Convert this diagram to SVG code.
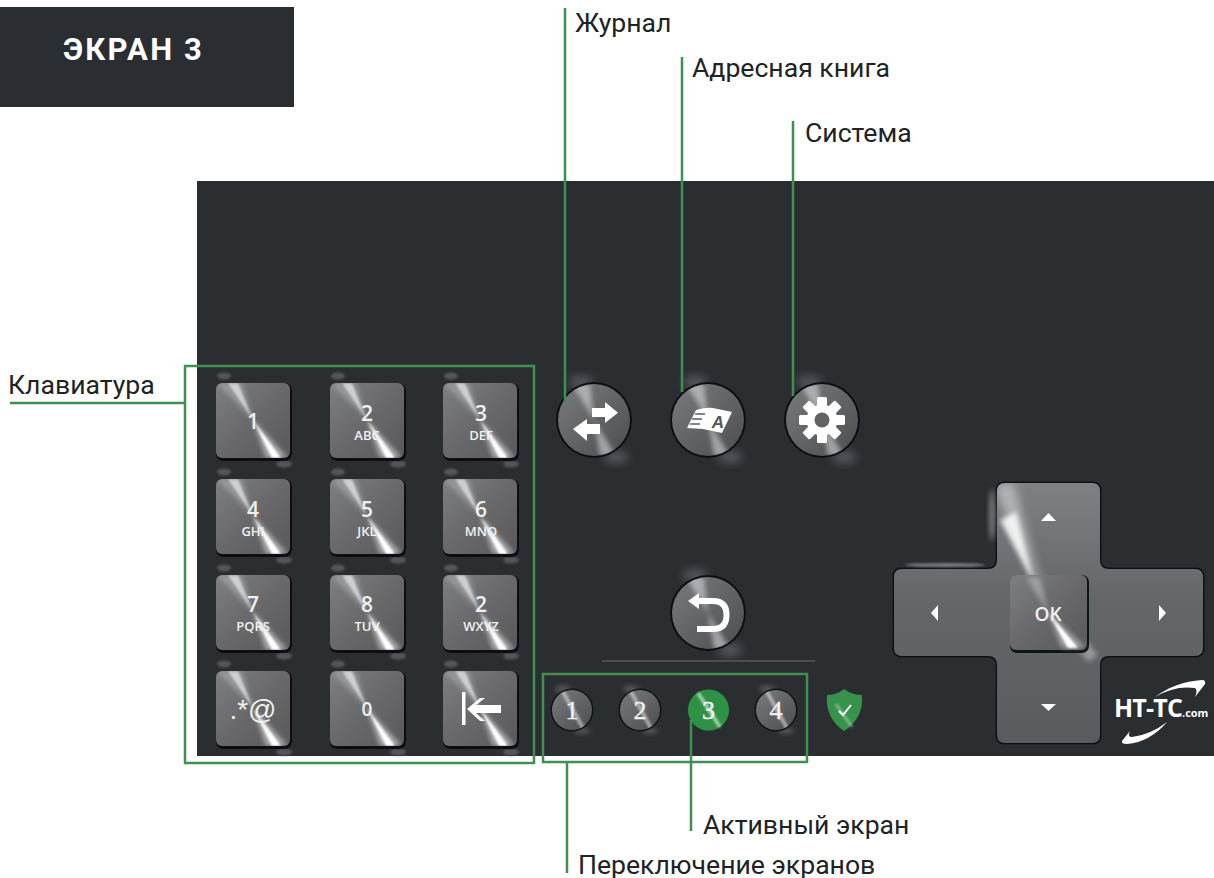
<svg xmlns="http://www.w3.org/2000/svg" xmlns:xlink="http://www.w3.org/1999/xlink" width="1214" height="878" viewBox="0 0 1214 878">
<style>
text{font-family:"Open Sans","Liberation Sans",sans-serif;fill:#f1f1f1;text-anchor:middle;font-weight:600}
.lbl{font-family:Roboto,"Liberation Sans",sans-serif;font-size:26.600px;fill:#202326;text-anchor:start;font-weight:400}
.d{font-size:21px}
.l{font-size:13px}
.n{font-family:"Liberation Serif",serif;font-size:26px;font-weight:400;stroke:#f1f1f1;stroke-width:.4}
.c{fill:none;stroke:#3f8f50;stroke-width:2.5}
.i{fill:#fff;stroke:none}
.s{fill:none;stroke:#fff;stroke-width:6}
</style>
<defs>
<linearGradient id="gk" x1="0" y1="0" x2="1" y2="1"><stop offset="0" stop-color="#7e7f81"/><stop offset="0.5" stop-color="#69696b"/><stop offset="1" stop-color="#59595b"/></linearGradient>
<linearGradient id="gr" x1="0" y1="0" x2="1" y2="1"><stop offset="0" stop-color="#7a7b7d"/><stop offset="1" stop-color="#4c4d4f"/></linearGradient>
<linearGradient id="gd" x1="0" y1="0" x2="0" y2="1"><stop offset="0" stop-color="#7f8083"/><stop offset="0.45" stop-color="#656669"/><stop offset="1" stop-color="#5a5b5f"/></linearGradient>
<filter id="b1" x="-50%" y="-50%" width="200%" height="200%"><feGaussianBlur stdDeviation="1"/></filter>
<filter id="b2" x="-50%" y="-50%" width="200%" height="200%"><feGaussianBlur stdDeviation="2.400"/></filter>
<filter id="b3" x="-50%" y="-50%" width="200%" height="200%"><feGaussianBlur stdDeviation="5"/></filter>
<filter id="b0" x="-10%" y="-10%" width="120%" height="120%"><feGaussianBlur stdDeviation=".7"/></filter>
<clipPath id="ck"><rect width="74" height="75" rx="6"/></clipPath>
<clipPath id="cr"><circle r="36"/></clipPath>
<clipPath id="cs"><circle r="20"/></clipPath>
<clipPath id="cd"><path d="M1005 483H1092Q1100 483 1100 491V560Q1100 569 1109 569H1195Q1203 569 1203 577V648Q1203 656 1195 656H1109Q1100 656 1100 665V735Q1100 743 1092 743H1005Q997 743 997 735V665Q997 656 988 656H902Q894 656 894 648V577Q894 569 902 569H988Q997 569 997 560V491Q997 483 1005 483Z"/></clipPath>
<symbol id="key" overflow="visible">
<ellipse cx="8" cy="-7" rx="7" ry="3.500" fill="#54575a" filter="url(#b1)"/>
<ellipse cx="68" cy="81" rx="8" ry="3.500" fill="#54575a" filter="url(#b1)"/>
<rect x="0" y="0" width="76" height="78" rx="7" fill="#0e1012" filter="url(#b0)"/>
<rect width="74" height="75" rx="6" fill="url(#gk)"/>
<g clip-path="url(#ck)">
<path d="M37 37L0 0H26Z" fill="#c4c6c9" opacity=".4" filter="url(#b2)"/>
<path d="M37 37L12 0H22Z" fill="#eceef0" opacity=".65" filter="url(#b1)"/>
<path d="M37 37L50 75H72Z" fill="#eceef2" opacity=".55" filter="url(#b2)"/>
<path d="M37 37L56 75H65Z" fill="#fff" filter="url(#b1)"/>
</g>
</symbol>
<symbol id="rnd" overflow="visible">
<ellipse cx="-13" cy="-38" rx="12" ry="6" fill="#63666a" opacity=".8" filter="url(#b3)"/>
<ellipse cx="22" cy="37" rx="12" ry="6" fill="#63666a" opacity=".8" filter="url(#b3)"/>
<circle r="38" fill="#0e1012" filter="url(#b0)"/>
<circle r="36" fill="url(#gr)"/>
<g clip-path="url(#cr)">
<path d="M0 0L-22 -36H-4Z" fill="#dfe1e4" opacity=".55" filter="url(#b2)"/>
<path d="M0 0L6 36H22Z" fill="#dfe1e4" opacity=".55" filter="url(#b2)"/>
</g>
</symbol>
<symbol id="sm" overflow="visible">
<ellipse cx="-9" cy="-21" rx="8" ry="3.500" fill="#55585b" filter="url(#b2)"/>
<ellipse cx="10" cy="21" rx="8" ry="3" fill="#55585b" filter="url(#b2)"/>
<circle r="21.500" fill="#101214" filter="url(#b0)"/>
<circle r="20" fill="url(#gr)"/>
<g clip-path="url(#cs)">
<path d="M-10 -20L12 20" stroke="#e4e6e9" stroke-width="4" opacity=".55" filter="url(#b1)"/>
</g>
</symbol>
</defs>

<rect width="1214" height="878" fill="#fff"/>

<g id="title">
<rect x="0" y="7" width="294" height="100" fill="#2a2d32"/>
<text x="133.500" y="60" style="font-family:Roboto,'Liberation Sans',sans-serif;font-size:31px;font-weight:700;letter-spacing:2.200px;fill:#fff">ЭКРАН 3</text>
</g>

<rect id="panel" x="197" y="181" width="1017" height="575" fill="#2b2e31"/>

<g id="keypad">
<g id="key-1"><use href="#key" x="216" y="383"/><text class="d" x="253" y="429">1</text></g>
<g id="key-2"><use href="#key" x="330" y="383"/><text class="d" x="367" y="421">2</text><text class="l" x="367" y="440">ABC</text></g>
<g id="key-3"><use href="#key" x="443" y="383"/><text class="d" x="481" y="421">3</text><text class="l" x="481" y="440">DEF</text></g>
<g id="key-4"><use href="#key" x="216" y="479"/><text class="d" x="253" y="517">4</text><text class="l" x="253" y="536">GHI</text></g>
<g id="key-5"><use href="#key" x="330" y="479"/><text class="d" x="367" y="517">5</text><text class="l" x="367" y="536">JKL</text></g>
<g id="key-6"><use href="#key" x="443" y="479"/><text class="d" x="481" y="517">6</text><text class="l" x="481" y="536">MNO</text></g>
<g id="key-7"><use href="#key" x="216" y="575"/><text class="d" x="253" y="612">7</text><text class="l" x="253" y="631">PQRS</text></g>
<g id="key-8"><use href="#key" x="330" y="575"/><text class="d" x="367" y="612">8</text><text class="l" x="367" y="631">TUV</text></g>
<g id="key-9"><use href="#key" x="443" y="575"/><text class="d" x="481" y="612">2</text><text class="l" x="481" y="631">WXYZ</text></g>
<g id="key-star"><use href="#key" x="216" y="671"/><text x="253" y="719" style="font-size:28px;font-weight:400;font-family:'Liberation Sans',sans-serif">.*@</text></g>
<g id="key-0"><use href="#key" x="330" y="671"/><text class="d" x="367" y="716" style="font-size:19px">0</text></g>
<g id="key-back"><use href="#key" x="443" y="671"/><path class="i" d="M462 692h3.500v33h-3.500zM467 709L480 698H485L476 705H501V713H476L485 721H480Z"/></g>
</g>

<g id="btn-journal"><use href="#rnd" x="594" y="420"/><path class="i" d="M592 408H605V402L618 412.700L605 423V417H592ZM600 424H587V419L573 429L587 441V434H600Z"/></g>
<g id="btn-book"><use href="#rnd" x="708" y="420"/><path class="i" d="M696 410Q706 407 713 408L732 412L722 433L703 429L687 428Z"/><path d="M695 414h10M692 419h10M690 424h10" stroke="#5c5d5f" stroke-width="1.400"/><text x="718" y="428" style="font-family:'Liberation Sans',sans-serif;font-size:17px;font-weight:700;font-style:italic;fill:#55565a">A</text></g>
<g id="btn-system"><use href="#rnd" x="822" y="420"/>
<g transform="translate(822 420)" fill="#fff">
<rect x="-5" y="-23" width="10" height="46" rx="1.500"/><rect x="-5" y="-23" width="10" height="46" rx="1.500" transform="rotate(45)"/><rect x="-5" y="-23" width="10" height="46" rx="1.500" transform="rotate(90)"/><rect x="-5" y="-23" width="10" height="46" rx="1.500" transform="rotate(135)"/>
<circle r="15.500"/><circle r="7.500" fill="#626365"/></g></g>
<g id="btn-back"><use href="#rnd" x="708" y="613"/><path class="i" d="M688 601L699 593V609Z"/><path class="s" d="M697 601H713Q726.500 601 726.500 615Q726.500 629 713 629H697"/></g>

<rect id="divider" x="602" y="660" width="213" height="2" fill="#4b4e51"/>

<g id="screen-1"><use href="#sm" x="572" y="710"/><text class="n" x="572" y="719">1</text></g>
<g id="screen-2"><use href="#sm" x="640" y="710"/><text class="n" x="640" y="719">2</text></g>
<g id="screen-3">
<circle cx="708.500" cy="710" r="21" fill="#1b4a27"/><circle cx="708.500" cy="710" r="20.500" fill="#2f9146"/>
<path d="M698 693L720 727" stroke="#d5ecd9" stroke-width="3.500" opacity=".7" filter="url(#b1)"/>
<text class="n" x="708.500" y="719">3</text></g>
<g id="screen-4"><use href="#sm" x="776" y="710"/><text class="n" x="776" y="719">4</text></g>
<g id="shield"><path d="M844 689Q852 695 862 695Q864 718 844 731Q825 718 827 695Q837 695 844 689Z" fill="#37924c"/><path d="M836 704L852 727" stroke="#cfe8d4" stroke-width="3" opacity=".45" filter="url(#b1)"/><path d="M839 711L843 715L851 705" fill="none" stroke="#fff" stroke-width="2"/></g>

<g id="dpad">
<path d="M1005 483H1092Q1100 483 1100 491V560Q1100 569 1109 569H1195Q1203 569 1203 577V648Q1203 656 1195 656H1109Q1100 656 1100 665V735Q1100 743 1092 743H1005Q997 743 997 735V665Q997 656 988 656H902Q894 656 894 648V577Q894 569 902 569H988Q997 569 997 560V491Q997 483 1005 483Z" fill="#0e1012" stroke="#0e1012" stroke-width="3" filter="url(#b0)"/>
<ellipse cx="992" cy="515" rx="3" ry="26" fill="#777a7d" filter="url(#b2)"/>
<ellipse cx="945" cy="565" rx="40" ry="2" fill="#777a7d" filter="url(#b1)"/>
<path d="M1005 483H1092Q1100 483 1100 491V560Q1100 569 1109 569H1195Q1203 569 1203 577V648Q1203 656 1195 656H1109Q1100 656 1100 665V735Q1100 743 1092 743H1005Q997 743 997 735V665Q997 656 988 656H902Q894 656 894 648V577Q894 569 902 569H988Q997 569 997 560V491Q997 483 1005 483Z" fill="url(#gd)"/>
<g clip-path="url(#cd)">
<path d="M1048 612L997 495V483H1014Z" fill="#dcdee1" opacity=".55" filter="url(#b3)"/>
<path d="M1035 585L1000 520L1016 512Z" fill="#fff" opacity=".85" filter="url(#b2)"/>
<path d="M1075 645L1088 662L1098 655L1086 640Z" fill="#d8dadd" opacity=".45" filter="url(#b2)"/>
</g>
<g id="dpad-ok">
<rect x="1010" y="575" width="79" height="78" rx="7" fill="#101214" filter="url(#b0)"/>
<rect x="1010" y="575" width="77" height="75" rx="6" fill="url(#gk)"/>
<path d="M1048 612L1026 577H1040Z" fill="#d0d2d5" opacity=".45" filter="url(#b2)"/>
<path d="M1048 612L1062 648H1086Z" fill="#e8eaee" opacity=".5" filter="url(#b2)"/>
<path d="M1048 612L1068 648H1078Z" fill="#fff" filter="url(#b1)"/>
<text x="1048" y="621" style="font-size:19px">OK</text>
</g>
<path class="i" d="M1041 521L1048.500 513L1056 521ZM1041 704H1056L1048.500 711ZM938 605V621L931 613ZM1159 605L1166 613L1159 621Z"/>
</g>

<g id="logo">
<text x="1114" y="717" style="font-size:25px;font-weight:700;text-anchor:start;fill:#fff;letter-spacing:-.8px">HT-TC</text>
<text x="1182" y="717" style="font-size:11px;font-weight:700;text-anchor:start;fill:#fff">.com</text>
<path class="i" d="M1155 697Q1175 682 1202 680Q1206 680 1205 684L1195 697Q1198 690 1195 688Q1175 685 1155 697ZM1167 722Q1150 735 1132 737Q1127 737 1130 731L1122 741Q1121 744 1127 744Q1150 742 1167 722Z"/>
</g>

<g id="connectors">
<path class="c" d="M565 8V402"/>
<path class="c" d="M682 57V392"/>
<path class="c" d="M793 121V396"/>
<path class="c" d="M10 403H185"/>
<rect class="c" x="185" y="366" width="349" height="397"/>
<rect class="c" x="543" y="674" width="264" height="88"/>
<path class="c" d="M567 763V873"/>
<path class="c" d="M691 720V831"/>
</g>

<g id="labels">
<text class="lbl" x="575" y="32">Журнал</text>
<text class="lbl" x="692" y="77">Адресная книга</text>
<text class="lbl" x="805" y="142">Система</text>
<text class="lbl" x="8" y="394">Клавиатура</text>
<text class="lbl" x="703" y="834">Активный экран</text>
<text class="lbl" x="578" y="874">Переключение экранов</text>
</g>
</svg>
